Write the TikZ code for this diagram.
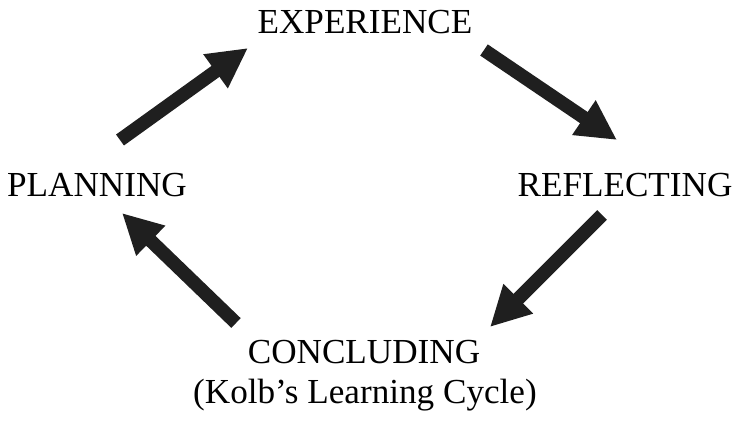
\documentclass[tikz,border=0pt]{standalone}
\usepackage{fontspec}
\setmainfont{Liberation Serif}
\usetikzlibrary{arrows.meta}

\begin{document}
\begin{tikzpicture}[x=0.2mm, y=-0.2mm,
  stage/.style={inner sep=0pt, font=\fontsize{20}{24}\selectfont},
  cyclearrow/.style={line width=0.27cm, color=black!88, -{Triangle[length=0.8cm, width=0.78cm]}}]
\useasboundingbox (0,0) rectangle (733,420);
\node[stage] (exp) at (365,22) {EXPERIENCE};
\node[stage] (refl) at (625,185) {REFLECTING};
\node[stage] (conc) at (364,352) {CONCLUDING};
\node[stage] (plan) at (97,185) {PLANNING};
\node[stage] (kolb) at (365,395) {(Kolb's Learning Cycle)};
% arrow ends
\coordinate (a1) at (120,140); \coordinate (b1) at (248,48);
\coordinate (a2) at (484,50);  \coordinate (b2) at (617,140);
\coordinate (a3) at (602,215); \coordinate (b3) at (490,327);
\coordinate (a4) at (236,323); \coordinate (b4) at (122,213);
\draw[cyclearrow] (a1) -- (b1);
\draw[cyclearrow] (a2) -- (b2);
\draw[cyclearrow] (a3) -- (b3);
\draw[cyclearrow] (a4) -- (b4);
\end{tikzpicture}
\end{document}
